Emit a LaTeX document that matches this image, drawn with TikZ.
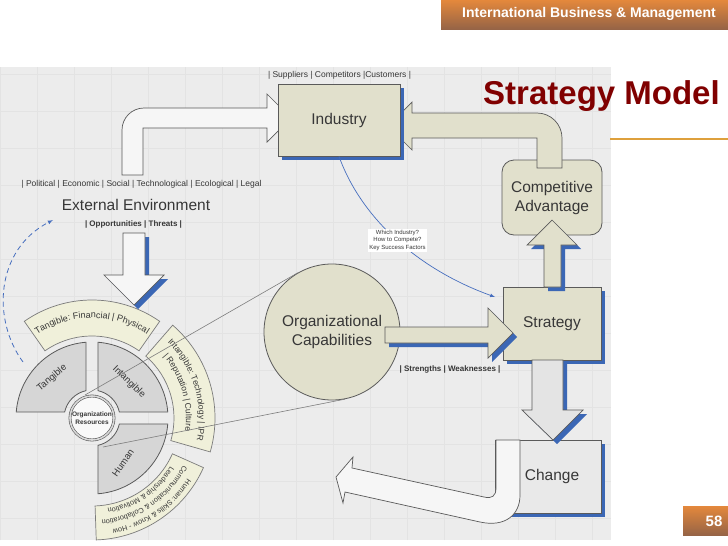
\documentclass[tikz,border=0pt]{standalone}
\usepackage{fontspec}
\setmainfont{Liberation Sans}
\usetikzlibrary{%
  calc,
  positioning,
  shadows,
  decorations.text,
  arrows,
}

\definecolor{boxfill}{RGB}{225,224,204}
\definecolor{bandfill}{RGB}{240,240,218}
\definecolor{secfill}{RGB}{214,214,214}
\definecolor{edgegray}{RGB}{90,90,90}
\definecolor{thingray}{RGB}{125,125,125}
\definecolor{shadowblue}{RGB}{59,103,181}
\definecolor{curveblue}{RGB}{70,110,190}
\definecolor{titlered}{RGB}{128,0,0}
\definecolor{ruleorange}{RGB}{222,160,60}
\definecolor{bggray}{RGB}{236,236,236}
\definecolor{gridgray}{RGB}{227,227,227}
\definecolor{textgray}{RGB}{55,55,55}
\definecolor{barorange}{RGB}{228,136,60}
\definecolor{barbrown}{RGB}{150,100,70}
\definecolor{arrowwhite}{RGB}{246,246,246}
\definecolor{lightarrow}{RGB}{228,228,228}
\definecolor{changefill}{RGB}{233,233,233}

\tikzset{
  bshadow/.style={drop shadow={shadow xshift=4pt, shadow yshift=-4pt,
    fill=shadowblue, opacity=1}},
  mainlabel/.style={font=\fontsize{15.5}{19}\selectfont, text=textgray},
  bigbox/.style={draw=edgegray, fill=boxfill, line width=0.8pt,
    mainlabel, inner sep=0pt},
  cabox/.style={bigbox, rounded corners=12pt, minimum width=100,
    minimum height=75, align=center},
  capcircle/.style={circle, draw=edgegray, fill=boxfill, line width=0.8pt,
    minimum size=136, inner sep=0pt, align=center, mainlabel},
  blockarrow/.style={draw=edgegray, line width=0.7pt, line join=miter},
  smalllabel/.style={font=\fontsize{8.5}{10}\selectfont, text=textgray,
    inner sep=1pt},
  boldlabel/.style={font=\bfseries\fontsize{8}{10}\selectfont,
    text=textgray, inner sep=1pt},
  qlabel/.style={fill=white, font=\fontsize{6}{7.5}\selectfont,
    text=textgray, align=center, inner sep=1pt, pos=0.5},
  sector/.style={draw=edgegray, fill=secfill, line width=0.8pt},
  seclabel/.style={font=\fontsize{9.5}{11}\selectfont, text=textgray},
  band/.style={draw=edgegray!80, fill=bandfill, line width=0.7pt},
  bandtext/.style={decorate, decoration={text along path,
    text color=textgray, text align=center,
    text format delimiters={[}{]}, text={#1}}},
  rescircle/.style={circle, draw=edgegray, double=gray!30,
    double distance=1.6pt, line width=0.6pt, fill=white!95!gray,
    minimum size=44, inner sep=0pt, align=center,
    font=\bfseries\fontsize{6.5}{7.5}\selectfont, text=textgray},
  thinline/.style={draw=thingray, line width=0.6pt},
  hdrtext/.style={font=\bfseries\fontsize{14}{16}\selectfont, text=white},
  titletext/.style={font=\bfseries\fontsize{33}{38}\selectfont,
    text=titlered},
  pagenum/.style={font=\bfseries\fontsize{15}{17}\selectfont, text=white},
}

\begin{document}
\begin{tikzpicture}[x=1pt, y=1pt]
  \useasboundingbox (0,0) rectangle (728,-546);
  \fill[white] (0,0) rectangle (728,-546);

  % backdrop of the model
  \fill[bggray] (0,-67) rectangle (611,-540);
  \draw[gridgray, line width=0.4pt] (0,-67) grid[step=37] (611,-540);

  % header, title, page number
  \shade[top color=barorange, bottom color=barbrown]
    (441,0) rectangle (728,-29);
  \node[hdrtext] (hdr) at (589,-14)
    {International Business \& Management};
  \node[titletext, anchor=base] (title) at (601.5,-104) {Strategy Model};
  \draw[ruleorange, line width=1.5pt] (610,-139) -- (728,-139);
  \shade[top color=barorange, bottom color=barbrown]
    (683,-506) rectangle (728,-535);
  \node[pagenum] (pg) at (714,-521) {58};

  % environment -> industry
  \draw[blockarrow, fill=arrowwhite]
    (122,-175) -- (122,-130) arc[start angle=180, end angle=90, radius=22]
    -- (267,-108) -- (267,-94) -- (291,-118) -- (267,-142) -- (267,-128)
    -- (143,-128) -- (143,-175) -- cycle;

  \node[cabox] (ca) at (552,-197.5) {Competitive\\Advantage};

  % advantage -> industry
  \draw[blockarrow, fill=boxfill]
    (537,-168) -- (537,-138) -- (412,-138) -- (412,-150) -- (388,-126)
    -- (412,-102) -- (412,-113) -- (537,-113)
    arc[start angle=90, end angle=0, radius=25] -- (562,-168) -- cycle;

  \node[bigbox, bshadow, minimum width=122, minimum height=72]
    (ind) at (339,-120) {Industry};
  \node[bigbox, bshadow, minimum width=98, minimum height=73]
    (strat) at (552,-323.5) {Strategy};
  \node[bigbox, bshadow, fill=changefill, minimum width=106,
    minimum height=73] (chg) at (548,-476.5) {\hspace*{8pt}Change};

  % strategy -> advantage
  \draw[blockarrow, bshadow, fill=boxfill]
    (544,-287) -- (544,-245) -- (527,-245) -- (552,-220) -- (577,-245)
    -- (561,-245) -- (561,-287) -- cycle;

  % strategy -> change
  \draw[blockarrow, bshadow, fill=lightarrow]
    (532,-360) -- (532,-410) -- (522,-410) -- (553,-440) -- (583,-410)
    -- (563,-410) -- (563,-360) -- cycle;

  % change -> back to the resources
  \draw[blockarrow, fill=arrowwhite]
    (496,-440) -- (496,-488) .. controls (496,-496) and (492,-499) .. (484,-497)
    -- (352,-468) -- (353,-457) -- (336,-477) -- (343,-503) -- (345,-492)
    -- (480,-522) .. controls (505,-527.5) and (520,-515) .. (520,-495)
    -- (520,-440) -- cycle;

  % capabilities
  \node[capcircle] (cap) at (332,-332) {Organizational\\Capabilities};
  \draw[blockarrow, bshadow, fill=boxfill]
    (385,-327) -- (488,-327) -- (488,-308) -- (513,-333) -- (488,-358)
    -- (488,-343) -- (385,-343) -- cycle;

  % resource wheel
  \begin{scope}[shift={(92,-418)}]
    \draw[band] (125:118) arc[start angle=125, end angle=55, radius=118]
      -- (55:82) arc[start angle=55, end angle=125, radius=82] -- cycle;
    \draw[band] (49:123) arc[start angle=49, end angle=-16, radius=123]
      -- (-16:82) arc[start angle=-16, end angle=49, radius=82] -- cycle;
    \draw[band] (-24:122) arc[start angle=-24, end angle=-88, radius=122]
      -- (-88:88) arc[start angle=-88, end angle=-24, radius=88] -- cycle;

    \path[bandtext={[\fontsize{9}{10}\selectfont]Tangible: Financial | Physical}]
      (125:100) arc[start angle=125, end angle=55, radius=100];
    \path[bandtext={[\fontsize{8.5}{10}\selectfont]Intangible: Technology | IPR}]
      (49:107) arc[start angle=49, end angle=-16, radius=107];
    \path[bandtext={[\fontsize{8.5}{10}\selectfont]| Reputation | Culture}]
      (49:94) arc[start angle=49, end angle=-16, radius=94];
    \path[bandtext={[\fontsize{7.3}{8}\selectfont]Human: Skills {\&} Know - How}]
      (-25:113) arc[start angle=-25, end angle=-87, radius=113];
    \path[bandtext={[\fontsize{7.3}{8}\selectfont]Communication {\&} Collaboration}]
      (-25:102.5) arc[start angle=-25, end angle=-87, radius=102.5];
    \path[bandtext={[\fontsize{7.3}{8}\selectfont]Leadership {\&} Motivation}]
      (-25:92) arc[start angle=-25, end angle=-87, radius=92];

    \draw[sector] (94.5:76) arc[start angle=94.5, end angle=175.5, radius=76]
      -- (167.6:28) arc[start angle=167.6, end angle=102.4, radius=28] -- cycle;
    \draw[sector] (85.5:76) arc[start angle=85.5, end angle=4.5, radius=76]
      -- (12.4:28) arc[start angle=12.4, end angle=77.6, radius=28] -- cycle;
    \draw[sector] (-4.5:76) arc[start angle=-4.5, end angle=-85.5, radius=76]
      -- (-77.6:28) arc[start angle=-77.6, end angle=-12.4, radius=28] -- cycle;

    \node[seclabel, rotate=40] (tg) at (-40,40) {Tangible};
    \node[seclabel, rotate=-44] (ig) at (37,36) {Intangible};
    \node[seclabel, rotate=55] (hu) at (31,-45) {Human};

    \node[rescircle] (res) at (0,0) {Organization\\Resources};
  \end{scope}

  % opportunities and threats into the resources
  \draw[blockarrow, bshadow, fill=arrowwhite]
    (123,-233) -- (145,-233) -- (145,-275) -- (164,-275) -- (134,-305)
    -- (104,-275) -- (123,-275) -- cycle;

  % capabilities drawn out of the resources
  \coordinate (ra) at (85,-395);
  \coordinate (rb) at (103,-447);
  \draw[thinline] (cap.120) -- (ra);
  \draw[thinline] (cap.281) -- (rb);

  % texts
  \node[smalllabel] (sup) at (339.5,-75)
    {| Suppliers | Competitors |Customers |};
  \node[smalllabel] (pest) at (141.5,-184)
    {| Political | Economic | Social | Technological | Ecological | Legal};
  \node[mainlabel] (ext) at (136,-205) {External Environment};
  \node[boldlabel] (opp) at (133.5,-224) {| Opportunities | Threats |};
  \node[boldlabel] (sw) at (450,-369) {| Strengths | Weaknesses |};

  % blue connectors
  \coordinate (loopstart) at (23,-362);
  \coordinate (loopend) at (53,-220);
  \draw[curveblue, line width=0.8pt, dash pattern=on 5pt off 3.5pt, -latex]
    (loopstart) .. controls (-8,-320) and (-5,-250) .. (loopend);
  \coordinate (stin) at (495,-297);
  \draw[curveblue, line width=0.7pt, -latex]
    (ind.south) .. controls (362,-220) and (420,-270) ..
    node[qlabel] (qs) {Which Industry?\\How to Compete?\\Key Success Factors}
    (stin);
\end{tikzpicture}
\end{document}
